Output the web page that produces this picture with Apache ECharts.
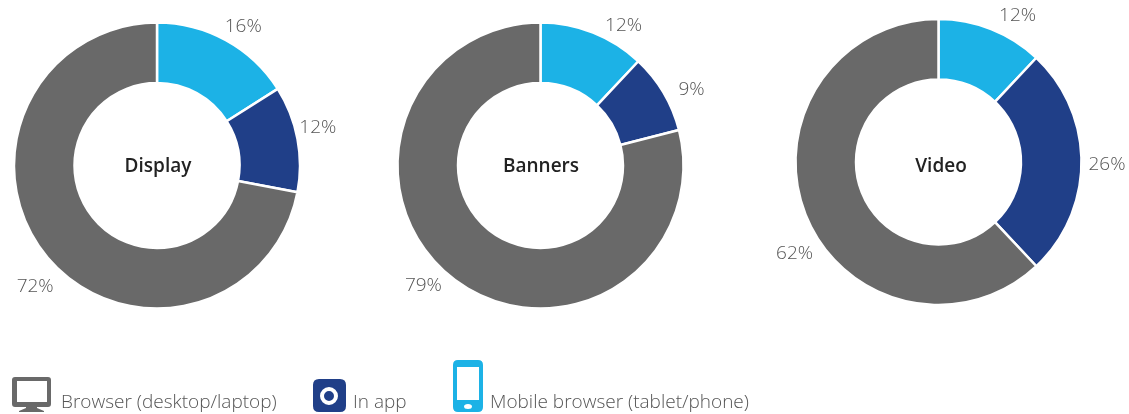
<!DOCTYPE html>
<html>
<head>
<meta charset="utf-8">
<style>html,body{margin:0;padding:0;background:#fff}#chart{width:1129px;height:414px}</style>
<script src="https://cdn.jsdelivr.net/npm/echarts@6/dist/echarts.min.js"></script>
</head>
<body>
<div id="chart"></div>
<script>
// Share of ad spend by environment, one donut per format
const formats = ['Display', 'Banners', 'Video'];
const environments = ['Mobile browser (tablet/phone)', 'In app', 'Browser (desktop/laptop)'];
const mobileBrowser = [16, 12, 12];
const inApp = [12, 9, 26];
const browser = [72, 79, 62];

const colors = ['#1cb2e6', '#203f88', '#696969'];
const centers = [[157, 165.5], [540.5, 165.5], [938.5, 162]];
const titleAnchors = [[158, 167], [541, 167], [941, 167]];
const FONT = '"Open Sans", sans-serif';

// Per-label nudges from the default outside placement
const labelShift = [
  [{dx: -10, dy: -7}, {dx: -11, dy: -10}, {dx: 18, dy: 25}],
  [{dx: 4, dy: 0}, {dx: 3, dy: 1}, {dx: -1, dy: 1}],
  [{dx: 0, dy: -6}, {dx: -6, dy: 3}, {dx: 20, dy: 36}]
];

const series = formats.map((name, i) => ({
  type: 'pie',
  name,
  center: centers[i],
  radius: [82.5, 143],
  startAngle: 90,
  clockwise: true,
  avoidLabelOverlap: false,
  silent: true,
  animation: false,
  itemStyle: {borderColor: '#fff', borderWidth: 2.5},
  label: {
    show: true,
    position: 'outside',
    formatter: '{c}%',
    color: '#555',
    fontFamily: FONT,
    fontWeight: 300,
    fontSize: 19
  },
  labelLine: {show: false, length: 8, length2: 0},
  labelLayout: params => labelShift[i][params.dataIndex],
  data: [mobileBrowser[i], inApp[i], browser[i]].map((value, k) => ({
    name: environments[k],
    value,
    itemStyle: {color: colors[k]}
  }))
}));

const titles = formats.map((text, i) => ({
  text,
  left: titleAnchors[i][0],
  top: titleAnchors[i][1],
  textAlign: 'center',
  textVerticalAlign: 'middle',
  padding: 0,
  textStyle: {fontFamily: FONT, fontWeight: 600, fontSize: 19, color: '#222'}
}));

// Outlined glyphs for the key; inner contours wind the other way to punch holes
const monitorIcon = 'path://M3 0H36Q39 0 39 3V27Q39 30 36 30H25V31L32 34V35H7V34L14 31V30H3Q0 30 0 27V3Q0 0 3 0ZM5 4V25H35V4Z';
const appIcon = 'path://M6 0H27Q33 0 33 6V27Q33 33 27 33H6Q0 33 0 27V6Q0 0 6 0ZM16 8A9 9 0 1 0 16 26A9 9 0 1 0 16 8ZM16 12A5 5 0 1 1 16 22A5 5 0 1 1 16 12Z';
const phoneIcon = 'path://M5 0H25Q30 0 30 5V47Q30 52 25 52H5Q0 52 0 47V5Q0 0 5 0ZM4 7V40H26V7ZM15 44A4 2.5 0 1 0 15 49A4 2.5 0 1 0 15 44Z';

const legendBase = {
  orient: 'horizontal',
  selectedMode: false,
  itemGap: 0,
  padding: 0,
  itemStyle: {borderWidth: 0}
};
const legends = [
  {name: environments[2], icon: monitorIcon, left: 12, top: 377, itemWidth: 39, itemHeight: 35, padTop: 17, padLeft: 5},
  {name: environments[1], icon: appIcon, left: 313, top: 379, itemWidth: 33, itemHeight: 33, padTop: 15, padLeft: 2},
  {name: environments[0], icon: phoneIcon, left: 453, top: 360, itemWidth: 30, itemHeight: 52, padTop: 33, padLeft: 2}
].map(l => Object.assign({}, legendBase, {
  data: [{name: l.name, icon: l.icon}],
  left: l.left,
  top: l.top,
  itemWidth: l.itemWidth,
  itemHeight: l.itemHeight,
  formatter: '{t|{name}}',
  textStyle: {
    rich: {
      t: {
        fontFamily: FONT,
        fontWeight: 300,
        fontSize: 19,
        color: '#555',
        padding: [l.padTop, 0, 0, l.padLeft]
      }
    }
  }
}));

const chart = echarts.init(document.getElementById('chart'), null, {renderer: 'canvas'});
chart.setOption({
  backgroundColor: '#fff',
  animation: false,
  title: titles,
  legend: legends,
  series
});
</script>
</body>
</html>
